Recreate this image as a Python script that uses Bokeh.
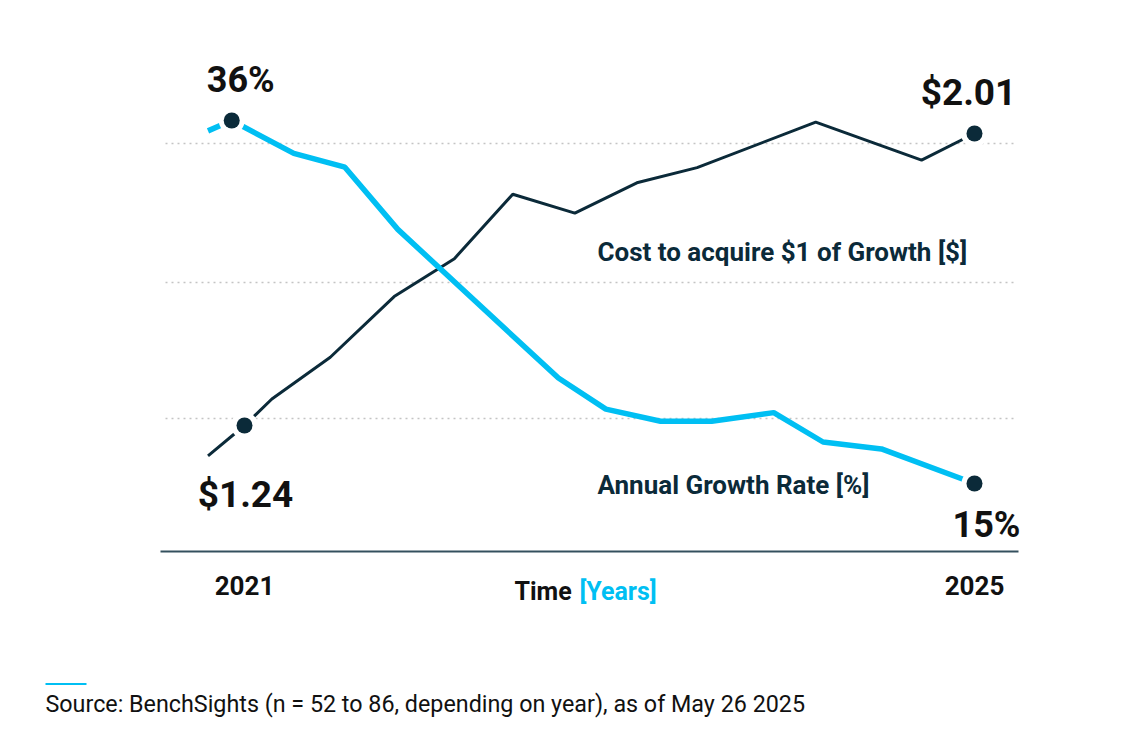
from bokeh.plotting import figure
from bokeh.layouts import column
from bokeh.models import Range1d, FixedTicker, Label, BoxAnnotation, Grid
from bokeh.embed import file_html
from bokeh.resources import INLINE

# ---- data ----
cost_years = [2020.80, 2021.00, 2021.15, 2021.47, 2021.82, 2022.15, 2022.47, 2022.81,
              2023.15, 2023.48, 2024.13, 2024.71, 2025.00]
cost_values = [1.16, 1.24, 1.31, 1.42, 1.58, 1.68, 1.85, 1.80, 1.88, 1.92, 2.04, 1.94, 2.01]

growth_years = [2020.80, 2020.93, 2021.27, 2021.55, 2021.84, 2022.72, 2022.98, 2023.28,
                2023.56, 2023.90, 2024.17, 2024.49, 2025.00]
growth_values = [35.4, 36.0, 34.1, 33.3, 29.7, 21.1, 19.3, 18.6, 18.6, 19.1, 17.4, 17.0, 15.0]

tick_years = [2021, 2025]
grid_levels = [1.2585, 1.6171, 1.9837]
cost_series_name = "Cost to acquire $1 of Growth [$]"
growth_series_name = "Annual Growth Rate [%]"
axis_title = "Time"
axis_unit = "[Years]"
source_note = "Source: BenchSights  (n = 52 to 86, depending on year), as of May 26 2025"

# ---- styles ----
CYAN = "#00bff3"
NAVY = "#0b2a39"
BLACK = "#111111"
FONT = "Roboto"
GRID_X = (2020.567, 2025.214)

p = figure(frame_width=1122, frame_height=590, output_backend="svg", toolbar_location=None,
           x_range=Range1d(2019.663, 2025.811), y_range=Range1d(0.7258, 2.2817),
           y_axis_type=None,
           min_border_left=0, min_border_right=0, min_border_top=30,
           min_border_bottom=60, outline_line_color=None)
p.extra_y_ranges = {"growth": Range1d(7.074, 41.206)}

# x axis drawn across the plot at a fixed height
p.xaxis.fixed_location = 0.9077
p.xaxis.bounds = (2020.54, 2025.241)
p.xaxis.ticker = FixedTicker(ticks=tick_years)
p.xaxis.major_label_overrides = {y: str(y) for y in tick_years}
p.xaxis.axis_line_color = "#34505e"
p.xaxis.axis_line_width = 2
p.xaxis.major_tick_line_color = None
p.xaxis.major_tick_out = 0
p.xaxis.major_tick_in = 0
p.xaxis.minor_tick_line_color = None
p.xaxis.major_label_text_font = FONT
p.xaxis.major_label_text_font_style = "bold"
p.xaxis.major_label_text_font_size = "26px"
p.xaxis.major_label_text_color = BLACK
p.xaxis.major_label_standoff = 24
p.xgrid.visible = False

# horizontal dotted grid
grid_style = dict(line_color="#c4c4c4", line_width=1.5, line_dash="2 4")
if "cross_bounds" in Grid.properties():
    p.add_layout(Grid(dimension=1, ticker=FixedTicker(ticks=grid_levels),
                      cross_bounds=GRID_X, grid_line_color=grid_style["line_color"],
                      grid_line_width=grid_style["line_width"],
                      grid_line_dash=grid_style["line_dash"]))
else:
    p.segment(x0=[GRID_X[0]] * len(grid_levels), x1=[GRID_X[1]] * len(grid_levels),
              y0=grid_levels, y1=grid_levels, **grid_style)

# lines
p.line(cost_years, cost_values, line_color=NAVY, line_width=3)
p.line(growth_years, growth_values, line_color=CYAN, line_width=5.5, y_range_name="growth")

# end markers (white halo + dark dot)
cx = [cost_years[1], cost_years[-1]]
cy = [cost_values[1], cost_values[-1]]
gx = [growth_years[1], growth_years[-1]]
gy = [growth_values[1], growth_values[-1]]
p.scatter(cx, cy, size=27, fill_color="white", line_color=None)
p.scatter(gx, gy, size=26, fill_color="white", line_color=None, y_range_name="growth")
p.scatter(cx, cy, size=16, fill_color=NAVY, line_color=None)
p.scatter(gx, gy, size=16, fill_color=NAVY, line_color=None, y_range_name="growth")


def lab(fig, text, x, y, size, color=BLACK, style="bold", align="center", xo=0, yo=0, rng="default"):
    # alphabetic baseline in the svg backend sits ~0.34em low; lift it
    fig.add_layout(Label(x=x, y=y, text=text, x_offset=xo, y_offset=yo + round(0.34 * size),
                         y_range_name=rng, text_font=FONT, text_font_size=f"{size}px",
                         text_font_style=style, text_color=color, text_align=align,
                         text_baseline="alphabetic"))


# value labels
lab(p, f"{growth_values[1]:.0f}%", growth_years[1], growth_values[1], 36, xo=9, yo=28, rng="growth")
lab(p, f"{growth_values[-1]:.0f}%", growth_years[-1], growth_values[-1], 36, xo=12, yo=-54, rng="growth")
lab(p, f"${cost_values[1]:.2f}", cost_years[1], cost_values[1], 37, xo=1, yo=-82)
lab(p, f"${cost_values[-1]:.2f}", cost_years[-1], cost_values[-1], 37, xo=-6, yo=28)

# series labels
lab(p, cost_series_name, 2022.934, 1.675, 26, color=NAVY, align="left")
lab(p, growth_series_name, 2022.934, 14.42, 26, color=NAVY, align="left", rng="growth")

# axis title
lab(p, axis_title, 2022.479, 0.7732, 25, align="left", yo=3)
lab(p, axis_unit, 2022.835, 0.7732, 25, color=CYAN, align="left", yo=3)

# ---- footer ----
f = figure(width=1122, height=45, output_backend="svg", toolbar_location=None,
           x_range=Range1d(0, 1122), y_range=Range1d(0, 45), x_axis_type=None, y_axis_type=None,
           min_border=0, outline_line_color=None)
f.xgrid.visible = False
f.ygrid.visible = False
f.add_layout(BoxAnnotation(left=45, right=86, bottom=40.5, top=42.5,
                           fill_color=CYAN, fill_alpha=1, line_color=None))
lab(f, source_note, 45, 14, 23.3, style="normal", align="left")

open("out.html", "w").write(file_html(column(p, f, spacing=0), INLINE))
